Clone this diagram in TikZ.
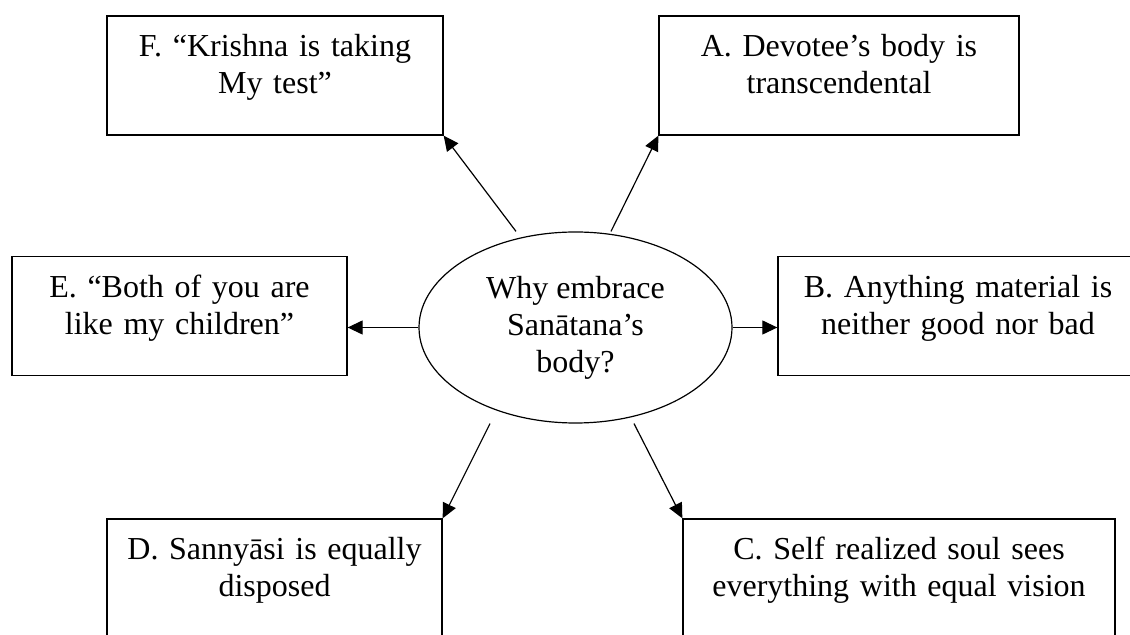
\documentclass[tikz,border=0pt]{standalone}
\usepackage{fontspec}
\setmainfont{Liberation Serif}
\usetikzlibrary{arrows.meta,shapes.geometric}

\begin{document}
\begin{tikzpicture}[x=0.5pt,y=-0.5pt,
  Box/.style={draw,line width=0.65pt,align=center,inner xsep=0pt,inner ysep=0pt,
    text height=20.5pt,text depth=39pt,font=\fontsize{16}{18.5}\selectfont},
  Hub/.style={draw,ellipse,line width=0.6pt,inner sep=0pt,align=center,
    minimum width=156.5pt,minimum height=95.5pt,font=\fontsize{16}{18.5}\selectfont},
  Link/.style={line width=0.6pt,-{Triangle[length=7.5pt,width=7pt]}}]

\useasboundingbox (0,0) rectangle (1130,635);

\node[Hub] (O) at (575.5,327.5) {Why embrace\\Sanātana’s\\body?};

\node[Box,text width=168pt] (F) at (275,75.5) {F. “Krishna is taking\\My test”};
\node[Box,text width=180pt] (A) at (839,75.5) {A. Devotee’s body is\\transcendental};
\node[Box,text width=167.5pt] (E) at (179.5,316) {E. “Both of you are\\like my children”};
\node[Box,text width=180pt] (B) at (958,316) {B. Anything material is\\neither good nor bad};
\node[Box,text width=167.5pt,text depth=42pt] (D) at (274.5,581.5) {D. Sannyāsi is equally\\disposed};
\node[Box,text width=216pt,text depth=42pt] (C) at (899,581.5) {C. Self realized soul sees\\everything with equal vision};

\draw[Link] ([xshift=-29.75pt]O.north) -- (F.south east);
\draw[Link] ([xshift=17.75pt]O.north) -- (A.south west);
\draw[Link] (O.west) -- (O.west -| E.east);
\draw[Link] (O.east) -- (O.east -| B.west);
\draw[Link] ([xshift=-42.75pt]O.south) -- (D.north east);
\draw[Link] ([xshift=29.25pt]O.south) -- (C.north west);

\end{tikzpicture}
\end{document}
